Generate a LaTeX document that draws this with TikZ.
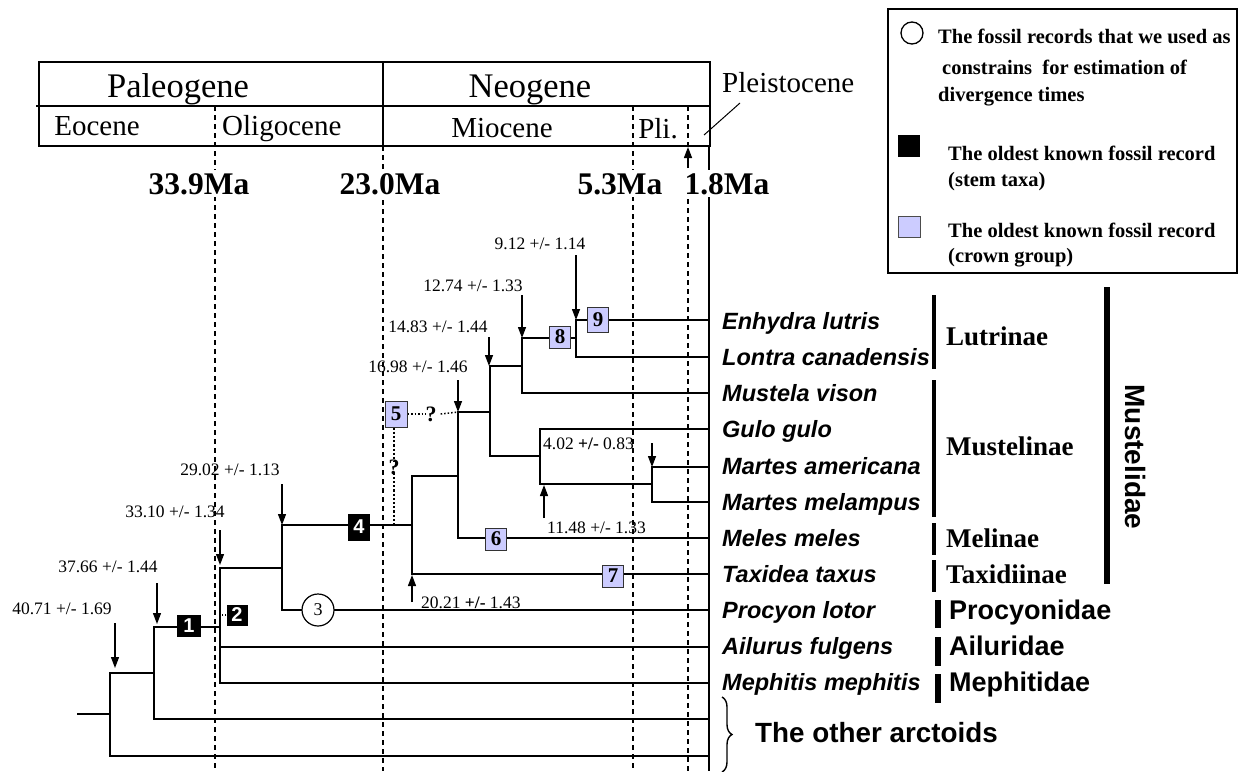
\documentclass[tikz,border=0pt]{standalone}
\usepackage{fontspec}
\setmainfont{Liberation Serif}
\newfontfamily\arial{Liberation Sans}
\usetikzlibrary{arrows.meta,decorations.pathreplacing}
\definecolor{lav}{RGB}{204,204,255}
\begin{document}
\begin{tikzpicture}[x=1pt,y=-1pt,
  tree/.style={line width=1.4pt},
  ep/.style={dash pattern=on 5pt off 4pt, line width=1.2pt},
  arr/.style={line width=1.3pt, -{Triangle[length=11pt,width=8pt]}},
  num/.style={font=\fontsize{17.5}{20}\selectfont, inner sep=0},
  taxon/.style={font=\arial\bfseries\itshape\fontsize{23.5}{26}\selectfont, anchor=base west, inner sep=0},
  grp/.style={font=\bfseries\fontsize{27}{30}\selectfont, anchor=base west, inner sep=0},
  fam/.style={font=\arial\bfseries\fontsize{27}{30}\selectfont, anchor=base west, inner sep=0},
  blk/.style={fill=black, text=white, font=\arial\bfseries\fontsize{20}{20}\selectfont, minimum width=22pt, minimum height=22pt, inner sep=0},
  lv/.style={fill=lav, draw=black!80, line width=1pt, font=\bfseries\fontsize{21}{21}\selectfont, minimum width=21pt, minimum height=22pt, inner sep=0},
  hdr/.style={font=\fontsize{34.5}{36}\selectfont, inner sep=0, anchor=base},
  sub/.style={font=\fontsize{29}{31}\selectfont, inner sep=0, anchor=base},
  ma/.style={font=\bfseries\fontsize{31.5}{33}\selectfont, fill=white, inner sep=3pt, anchor=base},
  leg/.style={font=\bfseries\fontsize{20.5}{22}\selectfont, anchor=west, inner sep=0},
  qm/.style={font=\bfseries\fontsize{22}{22}\selectfont, inner sep=0},
  bar/.style={line width=4pt},
  ]
\useasboundingbox (0,0) rectangle (1242,771);

% ---------- time header ----------
\draw[line width=1.3pt] (39,62) rectangle (710,146);
\draw[line width=1.3pt] (36,106) -- (710,106);
\draw[line width=1.3pt] (383,62) -- (383,146);
\node[hdr] (paleo) at (178,97) {Paleogene};
\node[hdr] (neo) at (530,97) {Neogene};
\node[sub] (eoc) at (97,135) {Eocene};
\node[sub, anchor=base west] (oli) at (222,135) {Oligocene};
\node[sub] (mio) at (502,137) {Miocene};
\node[sub] (pli) at (658,138) {Pli.};
\node[sub, anchor=base west] (ple) at (722,92) {Pleistocene};
\coordinate (pleA) at (740,103);
\coordinate (pleB) at (704,135);
\draw[line width=1pt] (pleA) -- (pleB);

% ---------- time lines ----------
\draw[ep] (215,106) -- (215,771);
\draw[ep] (383,146) -- (383,771);
\draw[ep] (633,106) -- (633,771);
\draw[ep] (688,106) -- (688,146);
\draw[ep] (688,190) -- (688,771);
\draw[tree] (709,146) -- (709,771);
\draw[arr] (688,168) -- (688,147);

\node[ma] (m339) at (199,194) {33.9Ma};
\node[ma] (m230) at (390,194) {23.0Ma};
\node[ma] (m53) at (620,194) {5.3Ma};
\node[ma] (m18) at (727,194) {1.8Ma};

% ---------- tips ----------
\coordinate (tE) at (709,320);
\coordinate (tL) at (709,357);
\coordinate (tMv) at (709,393);
\coordinate (tG) at (709,429);
\coordinate (tMa) at (709,467);
\coordinate (tMm) at (709,502);
\coordinate (tMe) at (709,538);
\coordinate (tT) at (709,574);
\coordinate (tP) at (709,610);
\coordinate (tA) at (709,647);
\coordinate (tMp) at (709,683);
\coordinate (tO1) at (709,719);
\coordinate (tO2) at (709,756);
% ---------- internal nodes ----------
\coordinate (iEL) at (576,338);
\coordinate (iELM) at (522,366);
\coordinate (iMart) at (652,484);
\coordinate (iGM) at (540,456);
\coordinate (iMus) at (490,412);
\coordinate (iMel) at (458,476);
\coordinate (iTax) at (412,525);
\coordinate (iPro) at (282,568);
\coordinate (iMph) at (220,627);
\coordinate (iO1) at (154,673);
\coordinate (iO2) at (110,714);
\coordinate (root) at (77,714);

\draw[tree] (iEL) |- (tE);
\draw[tree] (iEL) |- (tL);
\draw[tree] (iELM) |- (iEL);
\draw[tree] (iELM) |- (tMv);
\draw[tree] (iMart) |- (tMa);
\draw[tree] (iMart) |- (tMm);
\draw[tree] (iGM) |- (tG);
\draw[tree] (iGM) |- (iMart);
\draw[tree] (iMus) |- (iELM);
\draw[tree] (iMus) |- (iGM);
\draw[tree] (iMel) |- (iMus);
\draw[tree] (iMel) |- (tMe);
\draw[tree] (iTax) |- (iMel);
\draw[tree] (iTax) |- (tT);
\draw[tree] (iPro) |- (iTax);
\draw[tree] (iPro) |- (tP);
\draw[tree] (iMph) |- (iPro);
\draw[tree] (iMph) |- (tA);
\draw[tree] (iMph) |- (tMp);
\draw[tree] (iO1) |- (iMph);
\draw[tree] (iO1) |- (tO1);
\draw[tree] (iO2) |- (iO1);
\draw[tree] (iO2) |- (tO2);
\draw[tree] (root) -- (iO2);

% ---------- fossil markers ----------
\node[blk, minimum width=24pt] (n1) at (189,626) {1};
\node[blk, minimum width=21pt, minimum height=21pt] (n2) at (237,615) {2};
\node[circle, draw, fill=white, line width=1.2pt, minimum size=32pt, inner sep=0, font=\fontsize{18}{18}\selectfont] (n3) at (318,610) {3};
\node[blk, minimum height=27pt] (n4) at (359,527) {4};
\node[lv, minimum width=22pt, minimum height=26pt] (n5) at (396,414) {5};
\node[lv] (n6) at (496,539) {6};
\node[lv] (n7) at (613,576) {7};
\node[lv] (n8) at (560,337) {8};
\node[lv, minimum height=25pt] (n9) at (598,320) {9};

\draw[dotted, line width=1.3pt] (n2.west) -- (iMph |- n2.west);
\node[qm] (q1) at (431,414) {?};
\node[qm] (q2) at (394,467) {?};
\draw[dotted, line width=1.5pt] (n5.east) -- (q1.west);
\draw[dotted, line width=1.5pt] ([xshift=4pt]q1.east) -- (iMel |- iMus);
\draw[dotted, line width=2.2pt] ([xshift=-2pt]n5.south) -- ([yshift=-2pt]q2.north);
\draw[dotted, line width=2.2pt] ([yshift=2pt]q2.south) -- (q2 |- iTax);

% ---------- age estimates ----------
\node[num] (d1) at (62,609) {40.71 +/- 1.69};
\node[num] (d2) at (108,567) {37.66 +/- 1.44};
\node[num] (d3) at (175,512) {33.10 +/- 1.34};
\node[num] (d4) at (230,470) {29.02 +/- 1.13};
\node[num] (d5) at (418,367) {16.98 +/- 1.46};
\node[num] (d6) at (438,327) {14.83 +/- 1.44};
\node[num] (d7) at (473,286) {12.74 +/- 1.33};
\node[num] (d8) at (540,244) {9.12 +/- 1.14};
\node[num, anchor=west] (d9) at (543,444) {4.02 \textbf{+/-} 0.83};
\node[num, anchor=west] (d10) at (547,528) {11.48 +/- 1.33};
\node[num, anchor=west] (d11) at (421,603) {20.21 \textbf{+/-} 1.43};

\draw[arr] (115,623) -- (115,668);
\draw[arr] (157,583) -- (157,624);
\draw[arr] (220,530) -- (220,565);
\draw[arr] (282,484) -- (282,525);
\draw[arr] (458,380) -- (458,412);
\draw[arr] (489,337) -- (489,366);
\draw[arr] (522,295) -- (522,338);
\draw[arr] (576,255) -- (576,320);
\draw[arr] (652,443) -- (652,467);
\draw[arr] (544,518) -- (544,485);
\draw[arr] (412,602) -- (412,575);

% ---------- taxa ----------
\node[taxon] (xE) at (722,329) {Enhydra lutris};
\node[taxon] (xL) at (722,365) {Lontra canadensis};
\node[taxon] (xMv) at (722,401) {Mustela vison};
\node[taxon] (xG) at (722,437) {Gulo gulo};
\node[taxon] (xMa) at (722,474) {Martes americana};
\node[taxon] (xMm) at (722,510) {Martes melampus};
\node[taxon] (xMe) at (722,546) {Meles meles};
\node[taxon] (xT) at (722,582) {Taxidea taxus};
\node[taxon] (xP) at (722,618) {Procyon lotor};
\node[taxon] (xA) at (722,654) {Ailurus fulgens};
\node[taxon] (xMp) at (722,690) {Mephitis mephitis};

% ---------- groups ----------
\draw[bar] (934,295) -- (934,369);
\draw[bar] (934,380) -- (934,517);
\draw[bar] (934,523) -- (934,555);
\draw[bar] (934,560) -- (934,592);
\draw[line width=6pt] (938,600) -- (938,628);
\draw[line width=6pt] (938,637) -- (938,666);
\draw[line width=6pt] (938,674) -- (938,703);
\node[grp] (gLut) at (946,345) {Lutrinae};
\node[grp] (gMus) at (946,455) {Mustelinae};
\node[grp] (gMel) at (946,547) {Melinae};
\node[grp] (gTax) at (946,583) {Taxidiinae};
\node[fam] (gPro) at (949,619) {Procyonidae};
\node[fam] (gAil) at (949,655) {Ailuridae};
\node[fam] (gMep) at (949,691) {Mephitidae};

\draw[line width=6pt] (1107,287) -- (1107,584);
\node[font=\arial\bfseries\fontsize{28}{30}\selectfont, rotate=-90, inner sep=0] (gMst) at (1135,457) {Mustelidae};

\coordinate (brT) at (722,697);
\coordinate (brB) at (722,772);
\draw[line width=1.4pt, decorate, decoration={brace, amplitude=10pt}] (brT) -- (brB);
\node[fam, font=\arial\bfseries\fontsize{27.8}{30}\selectfont] (gOth) at (755,742) {The other arctoids};

% ---------- legend ----------
\draw[line width=1.3pt] (888,9) rectangle (1237,273);
\node[circle, draw, line width=1.3pt, minimum size=22pt, inner sep=0] (lc) at (912,33) {};
\node[leg] (l1) at (938,36) {The fossil records that we used as};
\node[leg] (l2) at (942,67) {constrains\ \ for estimation of};
\node[leg] (l3) at (938,97) {divergence times};
\node[fill=black, minimum width=22pt, minimum height=22pt, inner sep=0] (lb) at (909,146) {};
\node[leg] (l4) at (948,153) {The oldest known fossil record};
\node[leg] (l5) at (948,182) {(stem taxa)};
\node[fill=lav, draw=black!70, line width=0.8pt, minimum width=22pt, minimum height=21pt, inner sep=0] (ll) at (909,227) {};
\node[leg] (l6) at (948,230) {The oldest known fossil record};
\node[leg] (l7) at (948,258) {(crown group)};
\end{tikzpicture}
\end{document}
